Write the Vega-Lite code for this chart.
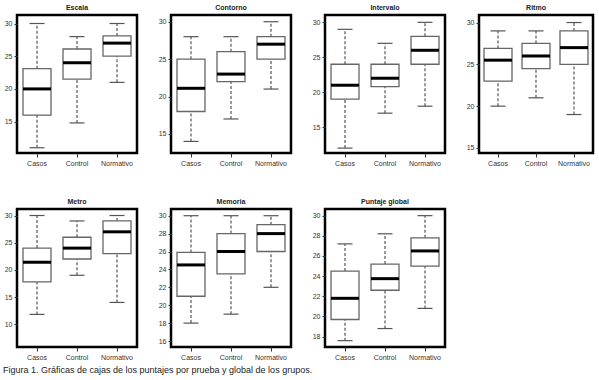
{
  "$schema": "https://vega.github.io/schema/vega-lite/v6.json",
  "background": "white",
  "padding": {"left": 2, "top": 2, "right": 1, "bottom": 2},
  "datasets": {
    "box": [
      {"prueba": "Escala", "grupo": "Casos", "min": 11, "q1": 16, "median": 20, "q3": 23.1, "max": 30},
      {"prueba": "Escala", "grupo": "Control", "min": 14.8, "q1": 21.5, "median": 24, "q3": 26.1, "max": 28},
      {"prueba": "Escala", "grupo": "Normativo", "min": 21, "q1": 25, "median": 27, "q3": 28.1, "max": 30},
      {"prueba": "Contorno", "grupo": "Casos", "min": 14, "q1": 18, "median": 21.1, "q3": 25, "max": 28},
      {"prueba": "Contorno", "grupo": "Control", "min": 17, "q1": 22, "median": 23, "q3": 26, "max": 28},
      {"prueba": "Contorno", "grupo": "Normativo", "min": 21, "q1": 25, "median": 27, "q3": 28, "max": 30},
      {"prueba": "Intervalo", "grupo": "Casos", "min": 12, "q1": 19, "median": 21, "q3": 24, "max": 29},
      {"prueba": "Intervalo", "grupo": "Control", "min": 17, "q1": 20.8, "median": 22, "q3": 24, "max": 27},
      {"prueba": "Intervalo", "grupo": "Normativo", "min": 18, "q1": 24, "median": 26, "q3": 28, "max": 30},
      {"prueba": "Ritmo", "grupo": "Casos", "min": 20, "q1": 23, "median": 25.5, "q3": 26.9, "max": 29},
      {"prueba": "Ritmo", "grupo": "Control", "min": 21, "q1": 24.5, "median": 26, "q3": 27.5, "max": 29},
      {"prueba": "Ritmo", "grupo": "Normativo", "min": 19, "q1": 25, "median": 27, "q3": 29, "max": 30},
      {"prueba": "Metro", "grupo": "Casos", "min": 11.8, "q1": 17.8, "median": 21.4, "q3": 24, "max": 30},
      {"prueba": "Metro", "grupo": "Control", "min": 19, "q1": 22, "median": 24, "q3": 26, "max": 29},
      {"prueba": "Metro", "grupo": "Normativo", "min": 14, "q1": 23, "median": 27, "q3": 29, "max": 30},
      {"prueba": "Memoria", "grupo": "Casos", "min": 18, "q1": 21, "median": 24.5, "q3": 25.9, "max": 30},
      {"prueba": "Memoria", "grupo": "Control", "min": 19, "q1": 23.5, "median": 26, "q3": 28, "max": 30},
      {"prueba": "Memoria", "grupo": "Normativo", "min": 22, "q1": 26, "median": 28, "q3": 29, "max": 30},
      {"prueba": "Puntaje global", "grupo": "Casos", "min": 17.6, "q1": 19.7, "median": 21.8, "q3": 24.5, "max": 27.2},
      {"prueba": "Puntaje global", "grupo": "Control", "min": 18.8, "q1": 22.6, "median": 23.75, "q3": 25.2, "max": 28.2},
      {"prueba": "Puntaje global", "grupo": "Normativo", "min": 20.8, "q1": 25, "median": 26.5, "q3": 27.8, "max": 30}
    ]
  },
  "vconcat": [
    {
      "hconcat": [
        {
          "title": "Escala", "width": 120, "height": 138,
          "data": {"name": "box"},
          "transform": [{"filter": "datum.prueba === 'Escala'"}],
          "encoding": {"x": {"field": "grupo", "type": "nominal", "sort": ["Casos", "Control", "Normativo"], "title": null}},
          "layer": [
            {"mark": {"type": "rule", "strokeDash": [3, 2], "color": "#555", "strokeWidth": 1.2}, "encoding": {"y": {"field": "min", "type": "quantitative", "scale": {"domain": [10.2, 31.3], "nice": false, "zero": false}, "axis": {"values": [15, 20, 25, 30]}, "title": null}, "y2": {"field": "q1"}}},
            {"mark": {"type": "rule", "strokeDash": [3, 2], "color": "#555", "strokeWidth": 1.2}, "encoding": {"y": {"field": "q3", "type": "quantitative", "axis": {"values": [15, 20, 25, 30]}, "title": null}, "y2": {"field": "max"}}},
            {"mark": {"type": "tick", "color": "#555", "opacity": 1, "size": 15, "thickness": 1.2}, "encoding": {"y": {"field": "min", "type": "quantitative", "axis": {"values": [15, 20, 25, 30]}, "title": null}}},
            {"mark": {"type": "tick", "color": "#555", "opacity": 1, "size": 15, "thickness": 1.2}, "encoding": {"y": {"field": "max", "type": "quantitative", "axis": {"values": [15, 20, 25, 30]}, "title": null}}},
            {"mark": {"type": "bar", "size": 28, "fill": "white", "stroke": "#666", "strokeWidth": 1.3}, "encoding": {"y": {"field": "q1", "type": "quantitative", "axis": {"values": [15, 20, 25, 30]}, "title": null}, "y2": {"field": "q3"}}},
            {"mark": {"type": "tick", "color": "black", "opacity": 1, "size": 28, "thickness": 3}, "encoding": {"y": {"field": "median", "type": "quantitative", "axis": {"values": [15, 20, 25, 30]}, "title": null}}}
          ]
        },
        {
          "title": "Contorno", "width": 120, "height": 138,
          "data": {"name": "box"},
          "transform": [{"filter": "datum.prueba === 'Contorno'"}],
          "encoding": {"x": {"field": "grupo", "type": "nominal", "sort": ["Casos", "Control", "Normativo"], "title": null}},
          "layer": [
            {"mark": {"type": "rule", "strokeDash": [3, 2], "color": "#555", "strokeWidth": 1.2}, "encoding": {"y": {"field": "min", "type": "quantitative", "scale": {"domain": [12.45, 30.9], "nice": false, "zero": false}, "axis": {"values": [15, 20, 25, 30]}, "title": null}, "y2": {"field": "q1"}}},
            {"mark": {"type": "rule", "strokeDash": [3, 2], "color": "#555", "strokeWidth": 1.2}, "encoding": {"y": {"field": "q3", "type": "quantitative", "axis": {"values": [15, 20, 25, 30]}, "title": null}, "y2": {"field": "max"}}},
            {"mark": {"type": "tick", "color": "#555", "opacity": 1, "size": 15, "thickness": 1.2}, "encoding": {"y": {"field": "min", "type": "quantitative", "axis": {"values": [15, 20, 25, 30]}, "title": null}}},
            {"mark": {"type": "tick", "color": "#555", "opacity": 1, "size": 15, "thickness": 1.2}, "encoding": {"y": {"field": "max", "type": "quantitative", "axis": {"values": [15, 20, 25, 30]}, "title": null}}},
            {"mark": {"type": "bar", "size": 28, "fill": "white", "stroke": "#666", "strokeWidth": 1.3}, "encoding": {"y": {"field": "q1", "type": "quantitative", "axis": {"values": [15, 20, 25, 30]}, "title": null}, "y2": {"field": "q3"}}},
            {"mark": {"type": "tick", "color": "black", "opacity": 1, "size": 28, "thickness": 3}, "encoding": {"y": {"field": "median", "type": "quantitative", "axis": {"values": [15, 20, 25, 30]}, "title": null}}}
          ]
        },
        {
          "title": "Intervalo", "width": 120, "height": 138,
          "data": {"name": "box"},
          "transform": [{"filter": "datum.prueba === 'Intervalo'"}],
          "encoding": {"x": {"field": "grupo", "type": "nominal", "sort": ["Casos", "Control", "Normativo"], "title": null}},
          "layer": [
            {"mark": {"type": "rule", "strokeDash": [3, 2], "color": "#555", "strokeWidth": 1.2}, "encoding": {"y": {"field": "min", "type": "quantitative", "scale": {"domain": [11.3, 31.05], "nice": false, "zero": false}, "axis": {"values": [15, 20, 25, 30]}, "title": null}, "y2": {"field": "q1"}}},
            {"mark": {"type": "rule", "strokeDash": [3, 2], "color": "#555", "strokeWidth": 1.2}, "encoding": {"y": {"field": "q3", "type": "quantitative", "axis": {"values": [15, 20, 25, 30]}, "title": null}, "y2": {"field": "max"}}},
            {"mark": {"type": "tick", "color": "#555", "opacity": 1, "size": 15, "thickness": 1.2}, "encoding": {"y": {"field": "min", "type": "quantitative", "axis": {"values": [15, 20, 25, 30]}, "title": null}}},
            {"mark": {"type": "tick", "color": "#555", "opacity": 1, "size": 15, "thickness": 1.2}, "encoding": {"y": {"field": "max", "type": "quantitative", "axis": {"values": [15, 20, 25, 30]}, "title": null}}},
            {"mark": {"type": "bar", "size": 28, "fill": "white", "stroke": "#666", "strokeWidth": 1.3}, "encoding": {"y": {"field": "q1", "type": "quantitative", "axis": {"values": [15, 20, 25, 30]}, "title": null}, "y2": {"field": "q3"}}},
            {"mark": {"type": "tick", "color": "black", "opacity": 1, "size": 28, "thickness": 3}, "encoding": {"y": {"field": "median", "type": "quantitative", "axis": {"values": [15, 20, 25, 30]}, "title": null}}}
          ]
        },
        {
          "title": "Ritmo", "width": 114, "height": 138,
          "data": {"name": "box"},
          "transform": [{"filter": "datum.prueba === 'Ritmo'"}],
          "encoding": {"x": {"field": "grupo", "type": "nominal", "sort": ["Casos", "Control", "Normativo"], "title": null}},
          "layer": [
            {"mark": {"type": "rule", "strokeDash": [3, 2], "color": "#555", "strokeWidth": 1.2}, "encoding": {"y": {"field": "min", "type": "quantitative", "scale": {"domain": [14.4, 30.9], "nice": false, "zero": false}, "axis": {"values": [15, 20, 25, 30]}, "title": null}, "y2": {"field": "q1"}}},
            {"mark": {"type": "rule", "strokeDash": [3, 2], "color": "#555", "strokeWidth": 1.2}, "encoding": {"y": {"field": "q3", "type": "quantitative", "axis": {"values": [15, 20, 25, 30]}, "title": null}, "y2": {"field": "max"}}},
            {"mark": {"type": "tick", "color": "#555", "opacity": 1, "size": 15, "thickness": 1.2}, "encoding": {"y": {"field": "min", "type": "quantitative", "axis": {"values": [15, 20, 25, 30]}, "title": null}}},
            {"mark": {"type": "tick", "color": "#555", "opacity": 1, "size": 15, "thickness": 1.2}, "encoding": {"y": {"field": "max", "type": "quantitative", "axis": {"values": [15, 20, 25, 30]}, "title": null}}},
            {"mark": {"type": "bar", "size": 28, "fill": "white", "stroke": "#666", "strokeWidth": 1.3}, "encoding": {"y": {"field": "q1", "type": "quantitative", "axis": {"values": [15, 20, 25, 30]}, "title": null}, "y2": {"field": "q3"}}},
            {"mark": {"type": "tick", "color": "black", "opacity": 1, "size": 28, "thickness": 3}, "encoding": {"y": {"field": "median", "type": "quantitative", "axis": {"values": [15, 20, 25, 30]}, "title": null}}}
          ]
        }
      ]
    },
    {
      "hconcat": [
        {
          "title": "Metro", "width": 120, "height": 138,
          "data": {"name": "box"},
          "transform": [{"filter": "datum.prueba === 'Metro'"}],
          "encoding": {"x": {"field": "grupo", "type": "nominal", "sort": ["Casos", "Control", "Normativo"], "title": null}},
          "layer": [
            {"mark": {"type": "rule", "strokeDash": [3, 2], "color": "#555", "strokeWidth": 1.2}, "encoding": {"y": {"field": "min", "type": "quantitative", "scale": {"domain": [5.8, 31.2], "nice": false, "zero": false}, "axis": {"values": [10, 15, 20, 25, 30]}, "title": null}, "y2": {"field": "q1"}}},
            {"mark": {"type": "rule", "strokeDash": [3, 2], "color": "#555", "strokeWidth": 1.2}, "encoding": {"y": {"field": "q3", "type": "quantitative", "axis": {"values": [10, 15, 20, 25, 30]}, "title": null}, "y2": {"field": "max"}}},
            {"mark": {"type": "tick", "color": "#555", "opacity": 1, "size": 15, "thickness": 1.2}, "encoding": {"y": {"field": "min", "type": "quantitative", "axis": {"values": [10, 15, 20, 25, 30]}, "title": null}}},
            {"mark": {"type": "tick", "color": "#555", "opacity": 1, "size": 15, "thickness": 1.2}, "encoding": {"y": {"field": "max", "type": "quantitative", "axis": {"values": [10, 15, 20, 25, 30]}, "title": null}}},
            {"mark": {"type": "bar", "size": 28, "fill": "white", "stroke": "#666", "strokeWidth": 1.3}, "encoding": {"y": {"field": "q1", "type": "quantitative", "axis": {"values": [10, 15, 20, 25, 30]}, "title": null}, "y2": {"field": "q3"}}},
            {"mark": {"type": "tick", "color": "black", "opacity": 1, "size": 28, "thickness": 3}, "encoding": {"y": {"field": "median", "type": "quantitative", "axis": {"values": [10, 15, 20, 25, 30]}, "title": null}}}
          ]
        },
        {
          "title": "Memoria", "width": 120, "height": 138,
          "data": {"name": "box"},
          "transform": [{"filter": "datum.prueba === 'Memoria'"}],
          "encoding": {"x": {"field": "grupo", "type": "nominal", "sort": ["Casos", "Control", "Normativo"], "title": null}},
          "layer": [
            {"mark": {"type": "rule", "strokeDash": [3, 2], "color": "#555", "strokeWidth": 1.2}, "encoding": {"y": {"field": "min", "type": "quantitative", "scale": {"domain": [15.33, 30.75], "nice": false, "zero": false}, "axis": {"values": [16, 18, 20, 22, 24, 26, 28, 30]}, "title": null}, "y2": {"field": "q1"}}},
            {"mark": {"type": "rule", "strokeDash": [3, 2], "color": "#555", "strokeWidth": 1.2}, "encoding": {"y": {"field": "q3", "type": "quantitative", "axis": {"values": [16, 18, 20, 22, 24, 26, 28, 30]}, "title": null}, "y2": {"field": "max"}}},
            {"mark": {"type": "tick", "color": "#555", "opacity": 1, "size": 15, "thickness": 1.2}, "encoding": {"y": {"field": "min", "type": "quantitative", "axis": {"values": [16, 18, 20, 22, 24, 26, 28, 30]}, "title": null}}},
            {"mark": {"type": "tick", "color": "#555", "opacity": 1, "size": 15, "thickness": 1.2}, "encoding": {"y": {"field": "max", "type": "quantitative", "axis": {"values": [16, 18, 20, 22, 24, 26, 28, 30]}, "title": null}}},
            {"mark": {"type": "bar", "size": 28, "fill": "white", "stroke": "#666", "strokeWidth": 1.3}, "encoding": {"y": {"field": "q1", "type": "quantitative", "axis": {"values": [16, 18, 20, 22, 24, 26, 28, 30]}, "title": null}, "y2": {"field": "q3"}}},
            {"mark": {"type": "tick", "color": "black", "opacity": 1, "size": 28, "thickness": 3}, "encoding": {"y": {"field": "median", "type": "quantitative", "axis": {"values": [16, 18, 20, 22, 24, 26, 28, 30]}, "title": null}}}
          ]
        },
        {
          "title": "Puntaje global", "width": 120, "height": 138,
          "data": {"name": "box"},
          "transform": [{"filter": "datum.prueba === 'Puntaje global'"}],
          "encoding": {"x": {"field": "grupo", "type": "nominal", "sort": ["Casos", "Control", "Normativo"], "title": null}},
          "layer": [
            {"mark": {"type": "rule", "strokeDash": [3, 2], "color": "#555", "strokeWidth": 1.2}, "encoding": {"y": {"field": "min", "type": "quantitative", "scale": {"domain": [16.97, 30.66], "nice": false, "zero": false}, "axis": {"values": [18, 20, 22, 24, 26, 28, 30]}, "title": null}, "y2": {"field": "q1"}}},
            {"mark": {"type": "rule", "strokeDash": [3, 2], "color": "#555", "strokeWidth": 1.2}, "encoding": {"y": {"field": "q3", "type": "quantitative", "axis": {"values": [18, 20, 22, 24, 26, 28, 30]}, "title": null}, "y2": {"field": "max"}}},
            {"mark": {"type": "tick", "color": "#555", "opacity": 1, "size": 15, "thickness": 1.2}, "encoding": {"y": {"field": "min", "type": "quantitative", "axis": {"values": [18, 20, 22, 24, 26, 28, 30]}, "title": null}}},
            {"mark": {"type": "tick", "color": "#555", "opacity": 1, "size": 15, "thickness": 1.2}, "encoding": {"y": {"field": "max", "type": "quantitative", "axis": {"values": [18, 20, 22, 24, 26, 28, 30]}, "title": null}}},
            {"mark": {"type": "bar", "size": 28, "fill": "white", "stroke": "#666", "strokeWidth": 1.3}, "encoding": {"y": {"field": "q1", "type": "quantitative", "axis": {"values": [18, 20, 22, 24, 26, 28, 30]}, "title": null}, "y2": {"field": "q3"}}},
            {"mark": {"type": "tick", "color": "black", "opacity": 1, "size": 28, "thickness": 3}, "encoding": {"y": {"field": "median", "type": "quantitative", "axis": {"values": [18, 20, 22, 24, 26, 28, 30]}, "title": null}}}
          ]
        }
      ]
    }
  ],
  "spacing": 28,
  "title": {"text": "Figura 1. Gráficas de cajas de los puntajes por prueba y global de los grupos.", "orient": "bottom", "anchor": "start", "fontSize": 9, "fontWeight": "normal", "font": "Liberation Sans", "color": "#222", "offset": 5},
  "config": {
    "font": "Liberation Sans",
    "concat": {"spacing": 17},
    "view": {"stroke": "black", "strokeWidth": 2.5},
    "title": {"fontSize": 7, "fontWeight": "bold", "font": "Liberation Sans", "color": "#222", "offset": 4},
    "axis": {"grid": false, "domain": false, "labelFontSize": 7, "labelColor": "#333", "tickColor": "#333", "tickSize": 3, "labelPadding": 2, "labelFont": "Liberation Sans", "labelOverlap": false},
    "axisX": {"labelAngle": 0, "tickSize": 4}
  }
}
